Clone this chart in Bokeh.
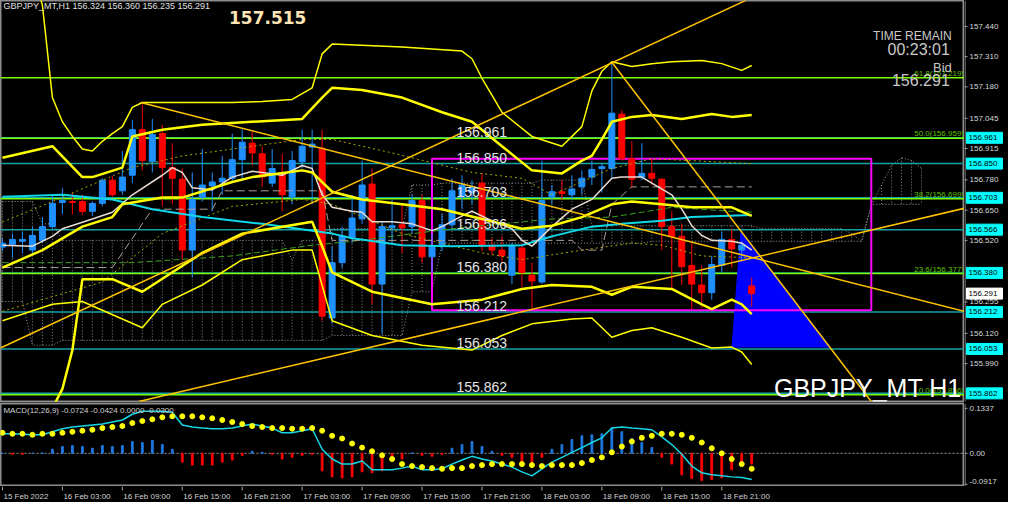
from bokeh.plotting import figure
from bokeh.layouts import column, row
from bokeh.models import Range1d, ColumnDataSource
from bokeh.core.properties import value
from bokeh.embed import file_html
from bokeh.resources import INLINE

# ---------------- data ----------------
bar_index = list(range(76))
opens = [156.491,156.503,156.516,156.478,156.520,156.579,156.683,156.687,156.687,156.645,
         156.679,156.779,156.733,156.800,156.996,156.858,156.979,156.833,156.783,156.478,
         156.704,156.754,156.771,156.787,156.867,156.938,156.892,156.766,156.808,156.708,
         156.858,156.921,156.917,156.186,156.424,156.533,156.612,156.762,156.332,156.574,
         156.587,156.579,156.691,156.449,156.499,156.587,156.708,156.725,156.766,156.499,
         156.478,156.370,156.487,156.370,156.341,156.708,156.729,156.716,156.750,156.792,
         156.829,156.829,157.063,156.871,156.792,156.808,156.783,156.579,156.537,156.412,
         156.328,156.295,156.412,156.524,156.478,156.324]
highs = [156.529,156.549,156.558,156.579,156.620,156.716,156.746,156.725,156.716,156.687,
         156.787,156.796,156.904,157.038,157.105,157.042,157.017,156.938,156.829,156.812,
         156.913,156.812,156.883,156.979,156.996,156.988,156.925,156.913,156.892,156.904,
         156.996,156.996,156.996,156.495,156.579,156.716,156.863,156.829,156.600,156.696,
         156.675,156.716,156.716,156.549,156.633,156.787,156.800,156.779,156.808,156.529,
         156.537,156.508,156.508,156.424,156.863,156.758,156.779,156.800,156.821,156.863,
         156.854,157.280,157.080,156.946,156.938,156.871,156.787,156.645,156.591,156.508,
         156.412,156.453,156.558,156.570,156.516,156.360]
lows = [156.474,156.445,156.466,156.458,156.508,156.566,156.633,156.633,156.629,156.625,
        156.666,156.708,156.716,156.766,156.821,156.812,156.666,156.675,156.437,156.361,
        156.687,156.645,156.716,156.771,156.779,156.842,156.750,156.750,156.645,156.675,
        156.829,156.675,156.174,156.161,156.403,156.508,156.591,156.245,156.119,156.508,
        156.466,156.549,156.424,156.382,156.474,156.570,156.654,156.675,156.474,156.458,
        156.424,156.332,156.320,156.224,156.332,156.675,156.696,156.696,156.716,156.758,
        156.725,156.787,156.863,156.746,156.779,156.758,156.478,156.311,156.328,156.224,
        156.228,156.265,156.382,156.403,156.432,156.235]
closes = [156.508,156.524,156.524,156.541,156.579,156.679,156.691,156.683,156.645,156.679,
          156.779,156.716,156.792,156.996,156.863,156.975,156.833,156.787,156.478,156.696,
          156.758,156.771,156.787,156.867,156.942,156.896,156.792,156.829,156.716,156.863,
          156.925,156.934,156.194,156.424,156.537,156.616,156.758,156.332,156.579,156.583,
          156.574,156.691,156.449,156.491,156.587,156.733,156.758,156.750,156.499,156.478,
          156.453,156.495,156.382,156.345,156.691,156.729,156.721,156.741,156.787,156.825,
          156.837,157.067,156.871,156.783,156.808,156.787,156.579,156.537,156.407,156.332,
          156.295,156.416,156.524,156.483,156.499,156.291]

time_tick_index = [0, 6, 12, 18, 24, 30, 36, 42, 48, 54, 60, 66, 72]
time_tick_labels = ["15 Feb 2022", "16 Feb 03:00", "16 Feb 09:00", "16 Feb 15:00", "16 Feb 21:00",
                    "17 Feb 03:00", "17 Feb 09:00", "17 Feb 15:00", "17 Feb 21:00", "18 Feb 03:00",
                    "18 Feb 09:00", "18 Feb 15:00", "18 Feb 21:00"]
price_ticks = [157.440, 157.310, 157.180, 157.045, 156.915, 156.780, 156.650, 156.520,
               156.255, 156.120, 155.990]

# Bollinger-type envelope lines
u3_idx = [0,2,3,4,5,6,7,8,9,10,11,12,13,14,17,20,23,26,29,31,32,33,40,46,47,48,50,53,56,58,59,60,61,63,65,67,70,72,74,75]
u3_val = [157.886,157.760,157.677,157.531,157.134,157.030,156.967,156.913,156.904,156.946,156.979,157.009,157.092,157.113,
          157.113,157.113,157.113,157.117,157.126,157.176,157.322,157.364,157.351,157.334,157.301,157.217,157.071,156.967,
          156.925,157.009,157.163,157.247,157.288,157.268,157.280,157.288,157.293,157.280,157.251,157.272]
u2_idx = [0,5,8,9,12,13,16,20,25,30,32,33,36,40,44,47,50,53,56,58,59,60,61,63,65,68,71,73,75]
u2_val = [156.875,156.925,156.792,156.792,156.833,156.967,156.996,157.017,157.030,157.042,157.134,157.176,157.167,157.134,
          157.071,157.030,156.925,156.821,156.808,156.863,156.883,156.954,157.030,157.051,157.059,157.042,157.063,157.051,157.059]
mid_idx = [0,4,8,11,12,16,18,23,25,30,31,33,36,40,44,48,52,55,58,61,63,66,69,73,75]
mid_val = [156.403,156.478,156.579,156.620,156.675,156.704,156.704,156.771,156.792,156.821,156.812,156.729,156.696,156.675,
           156.654,156.612,156.570,156.583,156.620,156.675,156.687,156.675,156.662,156.662,156.625]
l2_idx = [0,5,6,7,8,11,14,20,24,31,32,33,37,43,48,52,55,59,61,63,67,70,71,73,74,75]
l2_val = [155.756,155.798,155.881,156.048,156.353,156.353,156.299,156.466,156.549,156.600,156.495,156.382,156.299,156.245,
          156.265,156.311,156.328,156.320,156.286,156.320,156.311,156.245,156.224,156.265,156.245,156.203]
l3_idx = [0,5,8,14,16,20,24,29,31,33,37,42,47,50,53,57,59,61,63,65,68,71,73,74,75]
l3_val = [156.174,156.245,156.257,156.144,156.245,156.328,156.437,156.478,156.478,156.174,156.111,156.069,156.048,156.111,
          156.161,156.182,156.186,156.103,156.132,156.144,156.103,156.057,156.061,156.040,155.986]

# moving averages
fast_idx = [0,3,5,6,9,11,13,16,17,18,19,21,23,25,26,28,29,30,31,32,33,35,36,37,39,41,43,44,46,47,49,51,52,53,55,57,59,61,62,64,65,67,68,69,70,71,73,74,75]
fast_val = [156.499,156.495,156.537,156.570,156.612,156.641,156.716,156.800,156.833,156.812,156.746,156.737,156.792,156.817,
            156.812,156.800,156.821,156.842,156.829,156.716,156.662,156.645,156.641,156.600,156.600,156.591,156.562,156.579,
            156.625,156.645,156.604,156.570,156.520,156.495,156.579,156.654,156.696,156.787,156.792,156.792,156.766,156.716,
            156.654,156.583,156.541,156.520,156.516,156.508,156.478]
slow_idx = [0,6,11,15,20,26,33,35,40,45,52,55,59,62,66,69,75]
slow_val = [156.708,156.716,156.696,156.654,156.620,156.591,156.549,156.529,156.499,156.495,156.499,156.537,156.579,
            156.591,156.604,156.620,156.629]

# ichimoku-style lines
kijun_idx = [0,11,15,21,22,32,33,57,58,60,61,63,75]
kijun_val = [156.403,156.403,156.654,156.654,156.733,156.733,156.520,156.520,156.478,156.478,156.675,156.750,156.750]
olive_a_idx = [0,5,13,18,30,33,39,43,47,52,55,61,65,75]
olive_a_val = [156.599,156.687,156.833,156.883,156.954,156.954,156.896,156.854,156.812,156.787,156.716,156.829,156.871,156.850]
olive_b_idx = [0,10,16,23,30,33,40,48,52,58,63,66,70,75]
olive_b_val = [156.215,156.341,156.549,156.666,156.696,156.675,156.549,156.466,156.437,156.478,156.508,156.499,156.453,156.445]
green_idx = [0,13,23,31,35,45,55,61,67,73,75]
green_val = [156.424,156.424,156.453,156.499,156.516,156.570,156.612,156.620,156.662,156.645,156.641]
cloud_idx = list(range(93))
span_a = ([156.687]*4 + [156.591]*2 + [156.520]*23 + [156.437] + [156.520]*3 + [156.570]*8 + [156.758]*3 +
          [156.766]*10 + [156.779]*5 + [156.583]*17 + [156.570]*9 +
          [156.549, 156.516, 156.675, 156.758, 156.842, 156.875, 156.863, 156.829])
span_b = ([156.257]*3 + [156.069]*3 + [156.090]*23 + [156.090]*4 + [156.111]*8 + [156.299]*3 + [156.508]*15 +
          [156.508]*6 + [156.516]*22 + [156.675]*6)

# horizontal levels
level_prices = [156.961, 156.850, 156.703, 156.566, 156.380, 156.212, 156.053, 155.862]
fib_prices = [157.219, 156.959, 156.699, 156.377, 155.856]
fib_texts = ["61.8(157.219)", "50.0(156.959)", "38.2(156.699)", "23.6(156.377)", "0.0(155.856)"]
bid_price = 156.291

# drawn objects (bar index, price)
trend_x0 = [-0.2, 13.65, 13.84, 60.96]
trend_y0 = [156.057, 155.827, 157.113, 157.288]
trend_x1 = [74.41, 96.30, 96.30, 86.97]
trend_y1 = [157.552, 156.658, 156.215, 155.827]
tri_x = [73.92, 73.03, 82.85]
tri_y = [156.558, 156.061, 156.061]
box_left, box_right, box_top, box_bottom = 43.0, 86.97, 156.871, 156.219

# MACD panel
macd_hist = [0.000,-0.003,-0.003,0.000,0.001,0.012,0.020,0.023,0.020,0.015,0.023,0.020,0.023,0.035,0.032,0.038,0.026,0.012,
             -0.026,-0.035,-0.035,-0.035,-0.026,-0.020,-0.006,0.006,0.003,-0.003,-0.017,-0.012,-0.006,-0.003,-0.052,-0.070,
             -0.073,-0.070,-0.055,-0.058,-0.052,-0.023,-0.017,0.001,-0.006,-0.009,-0.003,0.015,0.026,0.035,0.020,0.006,-0.006,
             -0.012,-0.026,-0.035,-0.012,0.012,0.026,0.041,0.052,0.055,0.058,0.075,0.064,0.044,0.032,0.017,-0.012,-0.032,
             -0.064,-0.075,-0.081,-0.078,-0.073,-0.049,-0.035,-0.032]
macd_line = [0.058,0.058,0.057,0.055,0.055,0.064,0.073,0.078,0.081,0.084,0.087,0.093,0.099,0.116,0.125,0.125,0.125,0.122,
             0.084,0.078,0.075,0.073,0.073,0.075,0.081,0.087,0.081,0.075,0.061,0.061,0.067,0.073,0.012,-0.017,-0.032,-0.032,
             -0.023,-0.049,-0.049,-0.049,-0.044,-0.038,-0.049,-0.049,-0.046,-0.032,-0.020,-0.009,-0.017,-0.023,-0.032,-0.041,
             -0.055,-0.067,-0.046,-0.026,-0.012,0.003,0.017,0.032,0.046,0.075,0.078,0.075,0.073,0.070,0.049,0.026,-0.003,
             -0.038,-0.058,-0.064,-0.067,-0.070,-0.072,-0.078]
macd_signal = [0.061,0.058,0.058,0.055,0.058,0.058,0.061,0.064,0.067,0.070,0.075,0.078,0.081,0.090,0.096,0.101,0.107,0.110,
               0.110,0.110,0.107,0.104,0.099,0.093,0.087,0.081,0.078,0.075,0.075,0.073,0.073,0.075,0.067,0.052,0.044,0.029,
               0.017,0.006,-0.006,-0.017,-0.032,-0.038,-0.041,-0.044,-0.046,-0.044,-0.044,-0.038,-0.035,-0.032,-0.032,-0.032,
               -0.032,-0.035,-0.038,-0.035,-0.035,-0.035,-0.029,-0.020,-0.012,0.003,0.020,0.035,0.046,0.052,0.058,0.058,
               0.055,0.046,0.032,0.015,0.000,-0.017,-0.032,-0.046]
macd_ticks = [0.1337, 0.0, -0.0917]
macd_tick_labels = ["0.1337", "0.00", "-0.0917"]

# ---------------- layout helpers (reference pixel -> data, for text placement only) ----------------
def kx(px):
    return (px - 2) / 10.187

def py(px):
    return 157.5515 - px / 239.5

FONT = value("Liberation Sans")
FW = 964          # frame width of the chart panels
AW = 44           # width of the price-scale strip
XR = Range1d(-0.196, 96.30)
YR = Range1d(155.827, 157.5515)
MYR = Range1d(-0.0986, 0.148)
AXC = "#a8a8a8"
LBC = "#d8d8d8"


def base_fig(width, height, xr, yr, bottom=0, top=0):
    f = figure(width=width, height=height, x_range=xr, y_range=yr, output_backend="svg",
               toolbar_location=None, x_axis_location=None, y_axis_location=None,
               background_fill_color="black", border_fill_color="black",
               min_border_left=0, min_border_right=0, min_border_top=top, min_border_bottom=bottom)
    f.grid.visible = False
    f.outline_line_color = None
    return f

# ---------------- main price panel ----------------
p = base_fig(FW, 402, XR, YR, bottom=1)
p.outline_line_color = "#8c8c8c"
p.outline_line_width = 2

# ichimoku-like cloud hatch
p.segment(x0=cloud_idx, y0=span_a, x1=cloud_idx, y1=span_b, line_color="#8a8a8a", line_dash="1 2", line_width=1)
p.line(cloud_idx, span_a, line_color="#9a9a9a", line_dash="1 2", line_width=1)
p.line(cloud_idx, span_b, line_color="#9a9a9a", line_dash="1 2", line_width=1)

# horizontal levels
for lv in level_prices:
    p.line([XR.start, XR.end], [lv, lv], line_color="#17a3a3", line_width=1.5)
for lv in fib_prices:
    p.line([XR.start, XR.end], [lv, lv], line_color="#7cfc00", line_width=1.5)

# blue triangle and magenta box
p.patch(tri_x, tri_y, fill_color="#0000ff", line_color="#0000ff")
p.quad(left=[box_left], right=[box_right], top=[box_top], bottom=[box_bottom],
       fill_color=None, line_color="#ff00ff", line_width=2)

# candles
ccol = ["#1e90ff" if c >= o else "#ff0000" for o, c in zip(opens, closes)]
src = ColumnDataSource(dict(x=bar_index, o=opens, h=highs, l=lows, c=closes, col=ccol))
p.segment(x0="x", y0="h", x1="x", y1="l", source=src, line_color="col", line_width=1)
p.vbar(x="x", width=0.6, top="o", bottom="c", source=src, fill_color="col", line_color="col", line_width=1)

# indicator lines
p.line(olive_a_idx, olive_a_val, line_color="#a8a800", line_dash="2 3", line_width=1)
p.line(olive_b_idx, olive_b_val, line_color="#a8a800", line_dash="2 3", line_width=1)
p.line(green_idx, green_val, line_color="#3f9f1f", line_dash="6 3", line_width=1)
p.line(kijun_idx, kijun_val, line_color="#b0a098", line_dash="8 4", line_width=1)
p.line(slow_idx, slow_val, line_color="#10d8e8", line_width=2)
p.line(fast_idx, fast_val, line_color="#eadbd3", line_width=1.5)
p.line(u3_idx, u3_val, line_color="#ffff00", line_width=1.5)
p.line(l3_idx, l3_val, line_color="#ffff00", line_width=1.5)
p.line(u2_idx, u2_val, line_color="#ffff00", line_width=2.5)
p.line(mid_idx, mid_val, line_color="#ffff00", line_width=2.5)
p.line(l2_idx, l2_val, line_color="#ffff00", line_width=2.5)

# trend lines
p.segment(x0=trend_x0, y0=trend_y0, x1=trend_x1, y1=trend_y1, line_color="#ffc400", line_width=1.5)

# level texts inside chart
p.text(x=[kx(465)] * len(level_prices), y=[lv + 1 / 239.5 for lv in level_prices],
       text=["%.3f" % lv for lv in level_prices], text_align="left", text_baseline="bottom",
       text_color="#e4e4e4", text_font=FONT, text_font_size="14px")
p.text(x=[XR.end - 0.05] * len(fib_prices), y=fib_prices, text=fib_texts, text_align="right",
       text_baseline="bottom", text_color="#5fc000", text_font=FONT, text_font_size="8px")

# overlay texts
p.text(x=[kx(3)], y=[py(1)], text=["GBPJPY_MT,H1  156.324 156.360 156.235 156.291"], text_align="left",
       text_baseline="top", text_color="#e0e0e0", text_font=FONT, text_font_size="9px")
p.text(x=[kx(233)], y=[py(18)], text=["157.515"], text_align="left", text_baseline="middle",
       text_color="#ffe4b5", text_font=value("DejaVu Sans"), text_font_style="bold", text_font_size="17px")
p.text(x=[kx(970)], y=[py(37)], text=["TIME REMAIN"], text_align="right", text_baseline="middle",
       text_color="#c8c8c8", text_font=FONT, text_font_size="12px")
p.text(x=[kx(968)], y=[py(50)], text=["00:23:01"], text_align="right", text_baseline="middle",
       text_color="#c8c8c8", text_font=FONT, text_font_size="16px")
p.text(x=[kx(970)], y=[py(69)], text=["Bid"], text_align="right", text_baseline="middle",
       text_color="#c8c8c8", text_font=FONT, text_font_size="13px")
p.text(x=[kx(968)], y=[py(82)], text=["%.3f" % bid_price], text_align="right", text_baseline="middle",
       text_color="#c8c8c8", text_font=FONT, text_font_size="16px")
p.text(x=[kx(980)], y=[py(399)], text=["GBPJPY_MT H1"], text_align="right", text_baseline="alphabetic",
       text_color="#ffffff", text_font=FONT, text_font_size="25px")

# ---------------- price-scale strip (right of main panel) ----------------
pa = base_fig(AW, 402, Range1d(0, AW), YR, bottom=1)
pa.line([0.5, 0.5], [YR.start, YR.end], line_color=AXC, line_width=1)
pa.segment(x0=[0] * len(price_ticks), y0=price_ticks, x1=[3] * len(price_ticks), y1=price_ticks,
           line_color=AXC, line_width=1)
pa.text(x=[5] * len(price_ticks), y=price_ticks, text=["%.3f" % v for v in price_ticks], text_align="left",
        text_baseline="middle", text_color=LBC, text_font=FONT, text_font_size="8px")
half = 5.5 * (YR.end - YR.start) / 401
pa.quad(left=[2] * len(level_prices), right=[38] * len(level_prices),
        top=[v + half for v in level_prices], bottom=[v - half for v in level_prices],
        fill_color="#00ffff", line_color="#00ffff")
pa.text(x=[4] * len(level_prices), y=level_prices, text=["%.3f" % v for v in level_prices], text_align="left",
        text_baseline="middle", text_color="#000000", text_font=FONT, text_font_size="8px")
pa.quad(left=[2], right=[38], top=[bid_price + half], bottom=[bid_price - half],
        fill_color="#ffffff", line_color="#ffffff")
pa.text(x=[4], y=[bid_price], text=["%.3f" % bid_price], text_align="left",
        text_baseline="middle", text_color="#000000", text_font=FONT, text_font_size="8px")

# ---------------- MACD panel ----------------
m = base_fig(FW, 84, XR, MYR, top=1)
m.outline_line_color = "#8c8c8c"
m.outline_line_width = 2
m.line([XR.start, XR.end], [0, 0], line_color="#9a9a9a", line_dash="2 2", line_width=1)
hcol = ["#1e78e0" if v >= 0 else "#ff0000" for v in macd_hist]
m.vbar(x=bar_index, width=0.18, top=macd_hist, bottom=0, fill_color=hcol, line_color=hcol)
m.line(bar_index, macd_line, line_color="#16d6e6", line_width=1.5)
m.scatter(bar_index, macd_signal, size=5, fill_color="#ffff00", line_color="#ffff00")
m.text(x=[kx(3)], y=[MYR.end], text=["MACD(12,26,9) -0.0724 -0.0424 0.0000 -0.0300"], text_align="left",
       text_baseline="top", text_color="#d0d0d0", text_font=FONT, text_font_size="8px", y_offset=2)

ma = base_fig(AW, 84, Range1d(0, AW), MYR, top=1)
ma.line([0.5, 0.5], [MYR.start, MYR.end], line_color=AXC, line_width=1)
ma.segment(x0=[0] * 3, y0=macd_ticks, x1=[3] * 3, y1=macd_ticks, line_color=AXC, line_width=1)
ma.text(x=[5, 5], y=macd_ticks[:2], text=macd_tick_labels[:2], text_align="left", text_baseline="middle",
        text_color=LBC, text_font=FONT, text_font_size="8px")
ma.text(x=[5], y=macd_ticks[2:], text=macd_tick_labels[2:], text_align="left", text_baseline="middle",
        text_color=LBC, text_font=FONT, text_font_size="8px", y_offset=-3)

# ---------------- time axis strip ----------------
t = base_fig(FW + AW, 16, XR, Range1d(0, 1))
t.min_border_right = AW
t.segment(x0=time_tick_index, y0=[1] * len(time_tick_index), x1=time_tick_index, y1=[0.75] * len(time_tick_index),
          line_color=AXC, line_width=1)
t.text(x=[i + 0.1 for i in time_tick_index], y=[0.38] * len(time_tick_index), text=time_tick_labels,
       text_align="left", text_baseline="middle", text_color="#d0d0d0", text_font=FONT, text_font_size="8px")

layout = column(row(p, pa, spacing=0), row(m, ma, spacing=0), t, spacing=0, background="black")
open("out.html", "w").write(file_html(layout, INLINE))
